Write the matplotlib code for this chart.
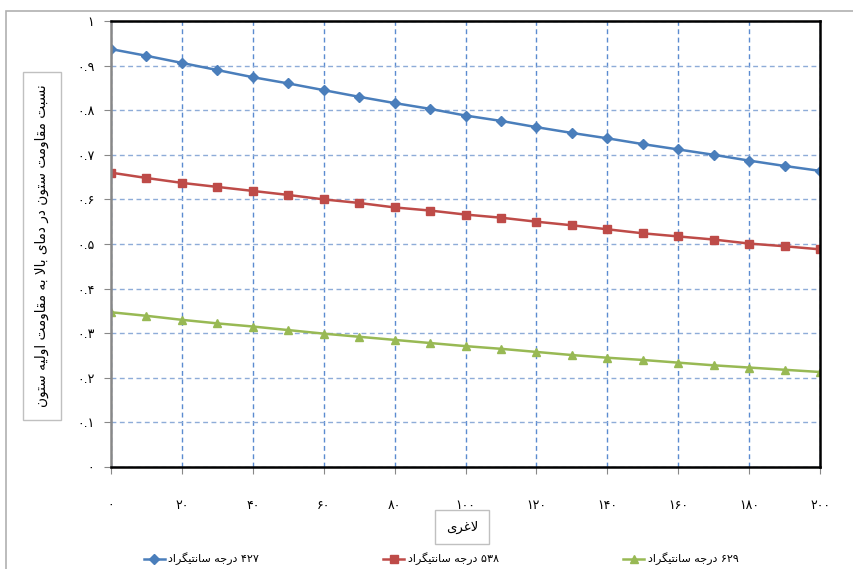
import matplotlib
matplotlib.use("Agg")
import matplotlib.pyplot as plt
from matplotlib.patches import Rectangle

# data
slenderness = [0, 10, 20, 30, 40, 50, 60, 70, 80, 90, 100,
               110, 120, 130, 140, 150, 160, 170, 180, 190, 200]
ratio_427 = [0.937, 0.922, 0.906, 0.890, 0.874, 0.860, 0.845, 0.830, 0.816, 0.803, 0.788,
             0.776, 0.762, 0.749, 0.737, 0.724, 0.712, 0.700, 0.687, 0.675, 0.664]
ratio_538 = [0.660, 0.648, 0.637, 0.628, 0.619, 0.610, 0.600, 0.592, 0.582, 0.575, 0.566,
             0.559, 0.550, 0.542, 0.533, 0.524, 0.517, 0.510, 0.501, 0.495, 0.488]
ratio_629 = [0.347, 0.339, 0.330, 0.322, 0.315, 0.307, 0.299, 0.292, 0.285, 0.278, 0.271,
             0.265, 0.258, 0.251, 0.245, 0.240, 0.234, 0.228, 0.223, 0.218, 0.213]

series_labels = ["۴۲۷ درجه سانتیگراد", "۵۳۸ درجه سانتیگراد", "۶۲۹ درجه سانتیگراد"]
x_title = "لاغری"
y_title = "نسبت مقاومت ستون در دمای بالا به مقاومت اولیه ستون"

x_ticks = [0, 20, 40, 60, 80, 100, 120, 140, 160, 180, 200]
x_tick_labels = ["۰", "۲۰", "۴۰", "۶۰", "۸۰", "۱۰۰", "۱۲۰", "۱۴۰", "۱۶۰", "۱۸۰", "۲۰۰"]
y_ticks = [0, 0.1, 0.2, 0.3, 0.4, 0.5, 0.6, 0.7, 0.8, 0.9, 1.0]
y_tick_labels = ["۰", "۰.۱", "۰.۲", "۰.۳", "۰.۴", "۰.۵", "۰.۶", "۰.۷", "۰.۸", "۰.۹", "۱"]


# matplotlib has no arabic shaping, so pick presentation forms by hand
# (isolated, final, initial, medial)
FORMS = {
    'ا': (0xFE8D, 0xFE8E), 'ب': (0xFE8F, 0xFE90, 0xFE91, 0xFE92),
    'ت': (0xFE95, 0xFE96, 0xFE97, 0xFE98), 'ج': (0xFE9D, 0xFE9E, 0xFE9F, 0xFEA0),
    'د': (0xFEA9, 0xFEAA), 'ر': (0xFEAD, 0xFEAE),
    'س': (0xFEB1, 0xFEB2, 0xFEB3, 0xFEB4), 'غ': (0xFECD, 0xFECE, 0xFECF, 0xFED0),
    'ق': (0xFED5, 0xFED6, 0xFED7, 0xFED8), 'ل': (0xFEDD, 0xFEDE, 0xFEDF, 0xFEE0),
    'م': (0xFEE1, 0xFEE2, 0xFEE3, 0xFEE4), 'ن': (0xFEE5, 0xFEE6, 0xFEE7, 0xFEE8),
    'ه': (0xFEE9, 0xFEEA, 0xFEEB, 0xFEEC), 'و': (0xFEED, 0xFEEE),
    'ی': (0xFEEF, 0xFEF0, 0xFEF3, 0xFEF4), 'گ': (0xFB92, 0xFB93, 0xFB94, 0xFB95),
}


def shape_word(w):
    out = []
    i = 0
    while i < len(w):
        c = w[i]
        prev = w[i - 1] if i > 0 else None
        joins_prev = prev in FORMS and len(FORMS[prev]) == 4 and c in FORMS
        if c == 'ل' and i + 1 < len(w) and w[i + 1] == 'ا':
            out.append(chr(0xFEFC if joins_prev else 0xFEFB))
            i += 2
            continue
        if c not in FORMS:
            out.append(c)
            i += 1
            continue
        f = FORMS[c]
        joins_next = len(f) == 4 and i + 1 < len(w) and w[i + 1] in FORMS
        if joins_prev and joins_next:
            out.append(chr(f[3]))
        elif joins_prev:
            out.append(chr(f[1]))
        elif joins_next:
            out.append(chr(f[2]))
        else:
            out.append(chr(f[0]))
        i += 1
    return ''.join(out)


def rtl(text):
    words = []
    for w in text.split(' '):
        if all('۰' <= c <= '۹' or c == '.' for c in w):
            words.append(w)
        else:
            words.append(shape_word(w)[::-1])
    return ' '.join(words[::-1])


plt.rcParams['font.family'] = ['DejaVu Sans']

fig = plt.figure(figsize=(8.54, 5.69), dpi=100)
fig.patches.append(Rectangle((6 / 854, -0.1), 1.1, 1.1 - 11 / 569, transform=fig.transFigure,
                             fill=False, edgecolor='#b0b0b0', linewidth=1.2))

ax = fig.add_axes([111 / 854, 1 - 467 / 569, 709 / 854, 446 / 569])

ax.plot(slenderness, ratio_427, color='#4a7ebb', lw=1.8, marker='D', ms=4.8, label=rtl(series_labels[0]))
ax.plot(slenderness, ratio_538, color='#be4b48', lw=1.8, marker='s', ms=5.8, label=rtl(series_labels[1]))
ax.plot(slenderness, ratio_629, color='#98b954', lw=1.8, marker='^', ms=6.3, label=rtl(series_labels[2]))

ax.set_xlim(0, 200)
ax.set_ylim(0, 1)
ax.set_xticks(x_ticks)
ax.set_xticklabels(x_tick_labels)
ax.set_yticks(y_ticks)
ax.set_yticklabels(y_tick_labels)
ax.tick_params(axis='x', length=5, color='#888888', pad=18, labelsize=9)
ax.tick_params(axis='y', length=5, color='#888888', pad=7, labelsize=9)

ax.grid(axis='x', color='#5b8bd0', linestyle=(0, (3.5, 2.5)), lw=1)
ax.grid(axis='y', color='#8eacd8', linestyle=(0, (3.5, 2.5)), lw=1)

for side in ['top', 'right', 'bottom']:
    ax.spines[side].set_color('black')
    ax.spines[side].set_linewidth(1.8)
ax.spines['left'].set_color('#888888')
ax.spines['left'].set_linewidth(1.8)

fig.text(42 / 854, 1 - 246 / 569, rtl(y_title), rotation=90, ha='center', va='center', fontsize=9.8,
         bbox=dict(boxstyle='square,pad=0.9', facecolor='white', edgecolor='#c0c0c0', lw=1))
fig.text(462 / 854, 1 - 527 / 569, rtl(x_title), ha='center', va='center', fontsize=9.5,
         bbox=dict(boxstyle='square,pad=0.8', facecolor='white', edgecolor='#c0c0c0', lw=1))

fig.legend(loc='center', bbox_to_anchor=(441 / 854, 1 - 559 / 569), ncol=3, frameon=False,
           fontsize=8, handlelength=1.9, handletextpad=0.3, columnspacing=11.2)

fig.savefig('out.png', dpi=100)
